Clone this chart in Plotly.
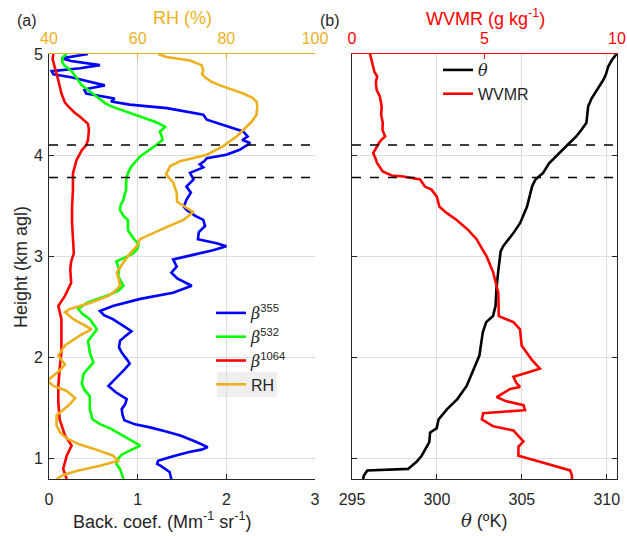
import plotly.graph_objects as go

# ---------------- data ----------------
h355 = [5.00, 4.957, 4.93, 4.89, 4.86, 4.83, 4.80, 4.77, 4.74, 4.69, 4.66, 4.645, 4.61, 4.56, 4.53, 4.50,
        4.465, 4.43, 4.40, 4.35, 4.31, 4.28, 4.235, 4.185, 4.15, 4.12, 4.09, 4.054, 4.005, 3.97, 3.94,
        3.91, 3.88, 3.825, 3.76, 3.69, 3.63, 3.56, 3.49, 3.46, 3.40, 3.36, 3.30, 3.24, 3.17, 3.13, 3.10,
        3.06, 3.01, 2.97, 2.90, 2.84, 2.78, 2.71, 2.64, 2.58, 2.51, 2.46, 2.42, 2.38, 2.30, 2.26, 2.21,
        2.165, 2.10, 2.05, 1.98, 1.94, 1.88, 1.82, 1.72, 1.66, 1.59, 1.54, 1.49, 1.43, 1.38, 1.34, 1.31,
        1.27, 1.23, 1.17, 1.115, 1.09, 1.066, 1.02, 0.98, 0.95, 0.93, 0.87, 0.80]
b355 = [0.44, 0.14, 0.25, 0.575, 0.35, 0.03, 0.05, 0.25, 0.39, 0.63, 0.45, 0.40, 0.42, 0.74, 0.70, 0.91,
        1.33, 1.55, 1.74, 1.78, 1.92, 2.04, 2.19, 2.24, 2.18, 2.27, 2.22, 2.15, 2.00, 1.78, 1.75,
        1.70, 1.74, 1.59, 1.63, 1.55, 1.60, 1.55, 1.52, 1.55, 1.65, 1.74, 1.76, 1.69, 1.68, 1.89, 2.00,
        1.85, 1.60, 1.40, 1.44, 1.38, 1.45, 1.61, 1.40, 1.03, 0.72, 0.575, 0.62, 0.72, 0.86, 0.93, 0.86,
        0.80, 0.79, 0.82, 0.88, 0.91, 0.85, 0.78, 0.67, 0.75, 0.876, 0.86, 0.82, 0.83, 0.85, 0.97, 1.14,
        1.32, 1.48, 1.65, 1.79, 1.72, 1.58, 1.38, 1.23, 1.22, 1.26, 1.36, 1.38]

h532 = [5.00, 4.98, 4.957, 4.92, 4.89, 4.86, 4.83, 4.74, 4.69, 4.645, 4.56, 4.51, 4.48, 4.44, 4.40, 4.36,
        4.33, 4.30, 4.28, 4.255, 4.235, 4.19, 4.15, 4.09, 4.04, 3.99, 3.94, 3.89, 3.84, 3.79, 3.72, 3.66,
        3.60, 3.56, 3.51, 3.46, 3.40, 3.36, 3.31, 3.26, 3.18, 3.12, 3.08, 3.03, 2.99, 2.95, 2.90, 2.87,
        2.81, 2.77, 2.71, 2.66, 2.61, 2.54, 2.48, 2.43, 2.38, 2.28, 2.22, 2.165, 2.05, 1.95, 1.89, 1.84,
        1.74, 1.68, 1.62, 1.49, 1.39, 1.34, 1.30, 1.25, 1.20, 1.16, 1.13, 1.08, 1.04, 1.00, 0.95, 0.90, 0.80]
b532 = [0.20, 0.17, 0.15, 0.15, 0.17, 0.22, 0.255, 0.33, 0.37, 0.44, 0.56, 0.64, 0.71, 0.84, 0.99, 1.11,
        1.195, 1.27, 1.31, 1.28, 1.25, 1.27, 1.28, 1.195, 1.11, 1.03, 0.98, 0.93, 0.90, 0.876, 0.87, 0.87,
        0.85, 0.84, 0.81, 0.80, 0.84, 0.89, 0.89, 0.89, 0.95, 1.01, 1.00, 0.95, 0.86, 0.76, 0.78, 0.79,
        0.78, 0.80, 0.84, 0.78, 0.65, 0.425, 0.33, 0.38, 0.46, 0.54, 0.49, 0.44, 0.46, 0.50, 0.44, 0.39,
        0.37, 0.40, 0.46, 0.46, 0.49, 0.58, 0.69, 0.79, 0.876, 0.96, 1.03, 0.91, 0.82, 0.78, 0.76, 0.80, 0.84]

h1064 = [5.00, 4.95, 4.87, 4.80, 4.74, 4.61, 4.52, 4.48, 4.42, 4.38, 4.31, 4.25, 4.15, 4.10, 4.05, 3.95,
         3.82, 3.66, 3.49, 3.33, 3.17, 3.03, 2.95, 2.87, 2.74, 2.61, 2.51, 2.45, 2.38, 2.21, 2.05, 1.89,
         1.72, 1.56, 1.39, 1.23, 1.13, 1.03, 0.90, 0.80]
b1064 = [0.05, 0.04, 0.065, 0.09, 0.105, 0.14, 0.18, 0.22, 0.29, 0.35, 0.44, 0.45, 0.44, 0.42, 0.37, 0.31,
         0.27, 0.27, 0.26, 0.26, 0.27, 0.28, 0.25, 0.24, 0.25, 0.18, 0.105, 0.12, 0.14, 0.14, 0.14, 0.12,
         0.105, 0.105, 0.12, 0.18, 0.255, 0.20, 0.16, 0.20]

h_rh = [5.00, 4.97, 4.935, 4.89, 4.84, 4.80, 4.77, 4.73, 4.69, 4.61, 4.57, 4.53, 4.48, 4.40, 4.33, 4.25,
        4.185, 4.09, 4.005, 3.96, 3.94, 3.89, 3.81, 3.73, 3.63, 3.54, 3.49, 3.44, 3.40, 3.36, 3.26, 3.17,
        3.10, 3.03, 2.94, 2.84, 2.76, 2.71, 2.66, 2.61, 2.54, 2.48, 2.45, 2.38, 2.28, 2.22, 2.12, 2.02,
        1.93, 1.86, 1.80, 1.77, 1.72, 1.67, 1.60, 1.53, 1.43, 1.33, 1.26, 1.20, 1.14, 1.10, 1.03, 0.98,
        0.93, 0.88, 0.84, 0.80]
rh = [64.6, 66.5, 71.8, 74.4, 74.8, 74.5, 75.2, 76.5, 78.6, 83.8, 85.8, 86.8, 87.0, 86.8, 85.7, 83.8,
      82.3, 79.3, 75.6, 71.5, 69.5, 67.3, 66.4, 68.0, 68.8, 68.9, 70.7, 72.5, 71.5, 70.3, 65.0, 60.5,
      59.8, 58.3, 56.8, 55.3, 55.8, 56.0, 55.0, 53.4, 49.2, 44.7, 43.6, 45.5, 49.6, 47.0, 43.6, 42.1,
      43.6, 42.1, 40.4, 39.6, 41.0, 44.0, 45.9, 44.5, 41.7, 41.7, 42.5, 44.0, 47.0, 50.0, 54.5, 55.6,
      51.5, 46.2, 43.2, 41.7]

h_theta = [5.00, 4.94, 4.875, 4.80, 4.74, 4.645, 4.56, 4.48, 4.40, 4.32, 4.25, 4.185, 4.12, 4.02, 3.92,
           3.825, 3.76, 3.69, 3.49, 3.33, 3.23, 3.10, 3.05, 2.84, 2.675, 2.51, 2.41, 2.35, 2.25, 2.02,
           1.855, 1.72, 1.59, 1.49, 1.39, 1.30, 1.26, 1.165, 1.03, 0.97, 0.90, 0.885, 0.835, 0.80]
theta = [310.57, 310.3, 310.08, 309.95, 309.78, 309.4, 309.1, 308.9, 308.85, 308.8, 308.5, 308.2, 307.8,
         307.2, 306.6, 306.25, 305.8, 305.6, 305.3, 304.9, 304.5, 303.9, 303.75, 303.6, 303.5, 303.45,
         303.3, 302.9, 302.7, 302.5, 302.1, 301.75, 301.2, 300.6, 300.1, 299.98, 299.6, 299.55, 299.1,
         298.8, 298.3, 295.9, 295.7, 295.65]

h_wv = [5.00, 4.93, 4.875, 4.82, 4.78, 4.72, 4.645, 4.58, 4.48, 4.40, 4.32, 4.25, 4.185, 4.15, 4.12,
        4.06, 4.02, 3.96, 3.92, 3.84, 3.80, 3.79, 3.76, 3.69, 3.66, 3.59, 3.49, 3.43, 3.36, 3.26, 3.17,
        3.08, 3.00, 2.84, 2.64, 2.41, 2.35, 2.28, 2.12, 1.98, 1.89, 1.855, 1.81, 1.75, 1.71, 1.69, 1.61,
        1.57, 1.53, 1.48, 1.45, 1.39, 1.32, 1.28, 1.17, 1.12, 1.03, 0.97, 0.885, 0.835, 0.80]
wvmr = [0.68, 0.75, 0.80, 0.85, 0.95, 0.90, 0.93, 1.05, 1.12, 1.10, 1.16, 1.15, 1.25, 1.10, 1.02,
        0.90, 0.80, 0.90, 0.95, 1.16, 1.50, 1.94, 2.57, 2.75, 3.00, 3.20, 3.30, 3.57, 3.95, 4.39, 4.70,
        4.90, 5.08, 5.33, 5.52, 5.54, 6.09, 6.34, 6.40, 6.78, 7.09, 6.66, 6.09, 6.20, 6.34, 5.97, 5.46,
        5.80, 6.47, 6.53, 4.95, 4.90, 5.33, 6.09, 6.47, 6.28, 6.28, 7.09, 8.23, 8.30, 8.30]

layer_tops = [4.1, 3.78]

y_ticks = [1, 2, 3, 4, 5]
bc_ticks = [0, 1, 2, 3]
rh_ticks = [40, 60, 80, 100]
th_ticks = [295, 300, 305, 310]
wv_ticks = [0, 5, 10]

# ---------------- styling ----------------
W, H = 627, 536
FONT = "Liberation Sans, Arial, Helvetica, sans-serif"
TXT = "#262626"
ORANGE = "#EDB120"
GRID = "#DEDEDE"
LW = 2.6

def px(x):
    return x / W

def py(y):
    return 1 - y / H

xa = [px(49), px(315)]
xb = [px(352), px(617)]
yd = [py(479), py(54)]

BETA = "<span style='font-family:DejaVu Serif'><i>β</i></span>"

fig = go.Figure()
fig.add_trace(go.Scatter(x=b355, y=h355, mode="lines", line=dict(color="#0000FF", width=LW),
                         name=BETA + "<sup>355</sup>", xaxis="x", yaxis="y", legend="legend"))
fig.add_trace(go.Scatter(x=b532, y=h532, mode="lines", line=dict(color="#00FF00", width=LW),
                         name=BETA + "<sup>532</sup>", xaxis="x", yaxis="y", legend="legend"))
fig.add_trace(go.Scatter(x=b1064, y=h1064, mode="lines", line=dict(color="#FF0000", width=LW),
                         name=BETA + "<sup>1064</sup>", xaxis="x", yaxis="y", legend="legend"))
fig.add_trace(go.Scatter(x=rh, y=h_rh, mode="lines", line=dict(color=ORANGE, width=LW),
                         name="RH", xaxis="x2", yaxis="y", legend="legend"))
fig.add_trace(go.Scatter(x=theta, y=h_theta, mode="lines", line=dict(color="#000000", width=LW),
                         name="<span style='font-family:DejaVu Serif'><i>θ</i></span>",
                         xaxis="x3", yaxis="y3", legend="legend2"))
fig.add_trace(go.Scatter(x=wvmr, y=h_wv, mode="lines", line=dict(color="#FF0000", width=LW),
                         name="WVMR", xaxis="x4", yaxis="y3", legend="legend2"))

tick_common = dict(ticks="inside", ticklen=5, tickwidth=1, showline=True, linewidth=1,
                   zeroline=False, automargin=False, tickfont=dict(family=FONT, size=16, color=TXT))

fig.update_layout(
    width=W, height=H, margin=dict(l=0, r=0, t=0, b=0, autoexpand=False),
    paper_bgcolor="white", plot_bgcolor="white",
    font=dict(family=FONT, size=16, color=TXT),
    xaxis=dict(domain=xa, anchor="y", range=[0, 3], tickvals=bc_ticks, linecolor=TXT, tickcolor=TXT,
               showgrid=True, gridcolor=GRID, ticklabelstandoff=6, **tick_common),
    xaxis2=dict(overlaying="x", side="top", anchor="y", range=[40, 100], tickvals=rh_ticks,
                linecolor=ORANGE, tickcolor=ORANGE, showgrid=False, ticklabelstandoff=3,
                **{**tick_common, "tickfont": dict(family=FONT, size=16, color=ORANGE)}),
    yaxis=dict(domain=yd, anchor="x", range=[0.8, 5], tickvals=y_ticks, linecolor=TXT, tickcolor=TXT,
               showgrid=True, gridcolor=GRID, ticklabelstandoff=2, **tick_common),
    yaxis2=dict(overlaying="y", side="right", anchor="x", range=[0.8, 5], tickvals=y_ticks,
                linecolor=ORANGE, tickcolor=ORANGE, showgrid=False, showticklabels=False,
                **tick_common),
    xaxis3=dict(domain=xb, anchor="y3", range=[295, 310.6], tickvals=th_ticks, linecolor=TXT,
                tickcolor=TXT, showgrid=True, gridcolor=GRID, ticklabelstandoff=6, **tick_common),
    xaxis4=dict(overlaying="x3", side="top", anchor="y3", range=[0, 10], tickvals=wv_ticks,
                linecolor="#FF0000", tickcolor="#FF0000", showgrid=False, ticklabelstandoff=3,
                **{**tick_common, "tickfont": dict(family=FONT, size=16, color="#FF0000")}),
    yaxis3=dict(domain=yd, anchor="x3", range=[0.8, 5], tickvals=y_ticks, linecolor=TXT,
                tickcolor=TXT, showgrid=True, gridcolor=GRID, showticklabels=False,
                mirror="ticks", **tick_common),
    legend=dict(x=px(211), y=py(296), xanchor="left", yanchor="top", bgcolor="rgba(0,0,0,0)",
                font=dict(family=FONT, size=16, color=TXT), tracegroupgap=0, itemwidth=30),
    legend2=dict(x=px(438), y=py(53), xanchor="left", yanchor="top", bgcolor="rgba(0,0,0,0)",
                 font=dict(family=FONT, size=16, color=TXT), tracegroupgap=0, itemwidth=30),
    showlegend=True,
)

# dashed layer markers across both panels
for yv in layer_tops:
    for xr in ["x domain", "x3 domain"]:
        fig.add_shape(type="line", xref=xr, yref="y", x0=0, x1=1, y0=yv, y1=yv,
                      line=dict(color="#000000", width=1.5, dash="dash"), layer="above")

# grey highlight behind the RH legend entry
fig.add_shape(type="rect", xref="paper", yref="paper", x0=px(217), x1=px(277), y0=py(397), y1=py(372),
              fillcolor="#EFEFEF", line=dict(width=0), layer="below")

ann = [
    dict(text="(a)", x=px(27), y=py(20), font=dict(size=16, color=TXT)),
    dict(text="(b)", x=px(330), y=py(20), font=dict(size=16, color=TXT)),
    dict(text="RH (%)", x=px(182), y=py(18), font=dict(size=18, color=ORANGE)),
    dict(text="WVMR (g kg<sup>-1</sup>)", x=px(485), y=py(17), font=dict(size=18, color="#FF0000")),
    dict(text="Height (km agl)", x=px(21), y=py(267), textangle=-90, font=dict(size=18, color=TXT)),
    dict(text="Back. coef. (Mm<sup>-1</sup> sr<sup>-1</sup>)", x=px(162), y=py(520),
         font=dict(size=18, color=TXT)),
    dict(text="<span style='font-family:DejaVu Serif'><i>θ</i></span> (ºK)", x=px(484), y=py(520),
         font=dict(size=18, color=TXT)),
]
for a in ann:
    fig.add_annotation(xref="paper", yref="paper", showarrow=False, xanchor="center", yanchor="middle",
                       font_family=FONT, **{k: v for k, v in a.items()})

fig.write_html("out.html", config={"displayModeBar": False},
               post_script="document.body.style.margin='0';document.body.style.overflow='hidden';")
